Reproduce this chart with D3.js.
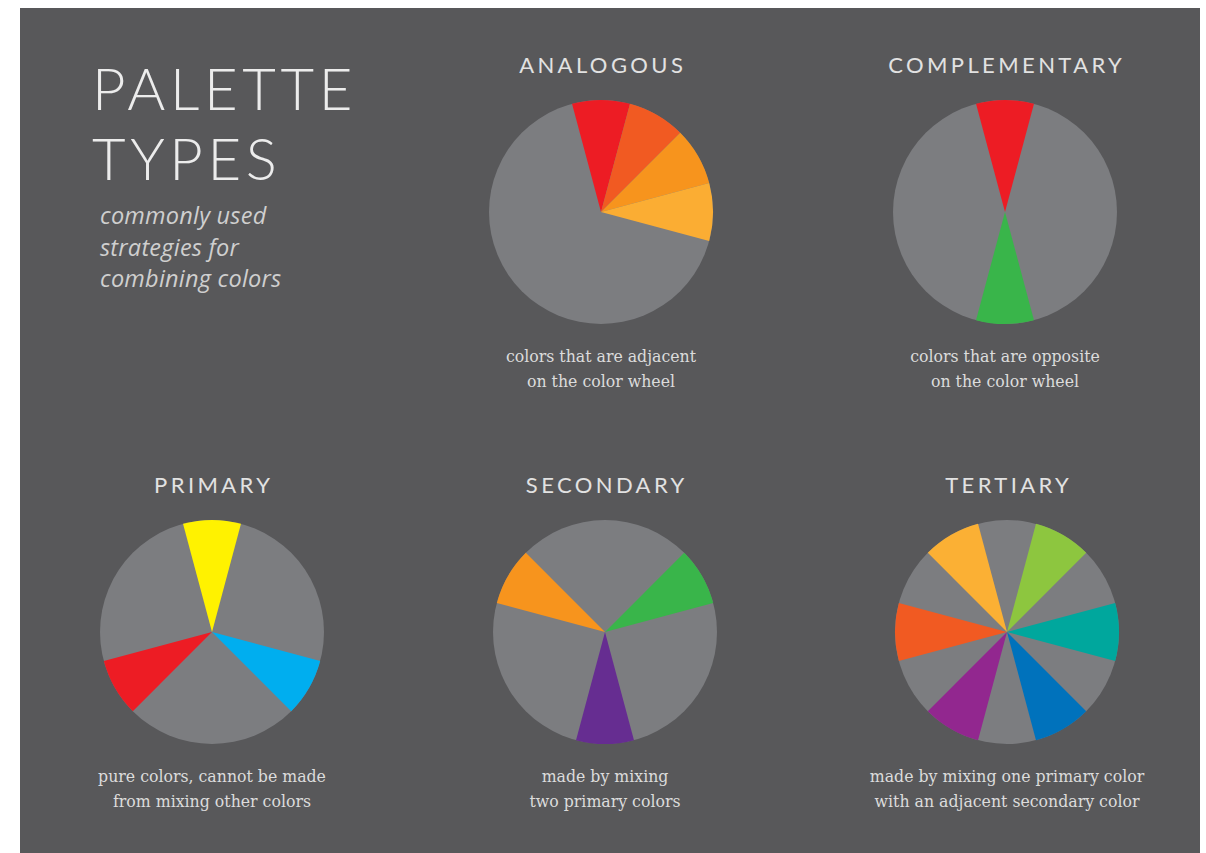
<!DOCTYPE html>
<html>
<head>
<meta charset="utf-8">
<script src="https://cdn.jsdelivr.net/npm/d3@7"></script>
<style>
  html, body { margin: 0; padding: 0; background: #ffffff; }
  svg { display: block; }
  .big-title { font-family: Lato, "Open Sans", sans-serif; font-weight: 300; fill: #ececec; }
  .sub-title { font-family: "Open Sans", "Noto Sans", sans-serif; font-style: italic; fill: #cfcfcf; }
  .pie-title { font-family: Lato, "Open Sans", sans-serif; font-weight: 400; fill: #e2e2e2; }
  .caption { font-family: "DejaVu Serif Condensed", "Liberation Serif", serif; fill: #dcdcdc; }
</style>
</head>
<body>
<svg id="chart" width="1206" height="853"></svg>
<script>
// 12 equal slots round the wheel, slot 0 at the top, going clockwise.
// null means the slot stays grey.
const slotCount = 12;

const analogousSlots = ["#ed1c24", "#f15a22", "#f7941d", "#fbad33", null, null, null, null, null, null, null, null];
const complementarySlots = ["#ed1c24", null, null, null, null, null, "#39b54a", null, null, null, null, null];
const primarySlots = ["#fff200", null, null, null, "#00aeef", null, null, null, "#ed1c24", null, null, null];
const secondarySlots = [null, null, "#39b54a", null, null, null, "#662d91", null, null, null, "#f7941d", null];
const tertiarySlots = [null, "#8dc63f", null, "#00a79d", null, "#0072bc", null, "#92278f", null, "#f15a22", null, "#fbb034"];

const paletteNames = ["ANALOGOUS", "COMPLEMENTARY", "PRIMARY", "SECONDARY", "TERTIARY"];
const paletteCaptions = [
  ["colors that are adjacent", "on the color wheel"],
  ["colors that are opposite", "on the color wheel"],
  ["pure colors, cannot be made", "from mixing other colors"],
  ["made by mixing", "two primary colors"],
  ["made by mixing one primary color", "with an adjacent secondary color"]
];
const paletteSlots = [analogousSlots, complementarySlots, primarySlots, secondarySlots, tertiarySlots];

const headingLines = ["PALETTE", "TYPES"];
const subLines = ["commonly used", "strategies for", "combining colors"];

const greyFill = "#7c7d80";
const panelFill = "#58585a";

// where each wheel sits
const centers = [[601, 212], [1005, 212], [212, 632], [605, 632], [1007, 632]];
const radius = 112;

const svg = d3.select("#chart");

svg.append("rect")
  .attr("x", 20).attr("y", 8)
  .attr("width", 1180).attr("height", 853)
  .attr("fill", panelFill);

// heading block, top left
svg.append("g")
  .selectAll("text")
  .data(headingLines)
  .join("text")
    .attr("class", "big-title")
    .attr("x", 92)
    .attr("y", (d, i) => 110 + i * 70)
    .attr("font-size", 58)
    .attr("letter-spacing", "0.08em")
    .text(d => d);

svg.append("g")
  .selectAll("text")
  .data(subLines)
  .join("text")
    .attr("class", "sub-title")
    .attr("x", 100)
    .attr("y", (d, i) => 224 + i * 31.5)
    .attr("font-size", 23.5)
    .attr("letter-spacing", "0.01em")
    .text(d => d);

const pie = d3.pie()
  .value(1)
  .sort(null)
  .startAngle(-Math.PI / slotCount)
  .endAngle(2 * Math.PI - Math.PI / slotCount);

const arc = d3.arc().innerRadius(0).outerRadius(radius);

const wheels = svg.selectAll("g.wheel")
  .data(paletteNames.map((name, i) => ({
    name: name,
    caption: paletteCaptions[i],
    slots: paletteSlots[i],
    center: centers[i]
  })))
  .join("g")
    .attr("class", "wheel")
    .attr("transform", d => `translate(${d.center[0]},${d.center[1]})`);

// grey disc underneath so the grey slots show no seams
wheels.append("path")
  .attr("d", arc({ startAngle: 0, endAngle: 2 * Math.PI }))
  .attr("fill", greyFill);

wheels.selectAll("path.slot")
  .data(d => pie(d.slots).filter(s => s.data))
  .join("path")
    .attr("class", "slot")
    .attr("d", arc)
    .attr("fill", d => d.data);

const titleSpacing = 3.4;
wheels.append("text")
  .attr("class", "pie-title")
  .attr("text-anchor", "middle")
  .attr("x", titleSpacing / 2)
  .attr("y", -139)
  .attr("font-size", 22)
  .attr("letter-spacing", titleSpacing)
  .text(d => d.name);

wheels.append("g")
  .selectAll("text")
  .data(d => d.caption)
  .join("text")
    .attr("class", "caption")
    .attr("text-anchor", "middle")
    .attr("y", (d, i) => 150 + i * 25)
    .attr("font-size", 17.5)
    .text(d => d);
</script>
</body>
</html>
